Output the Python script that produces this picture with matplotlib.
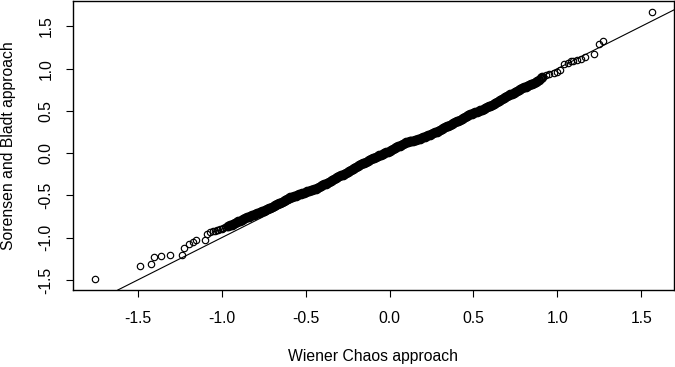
import matplotlib
matplotlib.use("Agg")
import matplotlib.pyplot as plt
import numpy as np

plt.rcParams['font.family'] = ['Liberation Sans', 'DejaVu Sans']

# ---- data (sorted quantiles) ----
low_x = [-1.753, -1.486, -1.421, -1.403, -1.359, -1.308, -1.236, -1.226, -1.195,
         -1.171, -1.151, -1.097, -1.085, -1.070]
low_y = [-1.492, -1.338, -1.307, -1.232, -1.220, -1.205, -1.201, -1.122, -1.071,
         -1.055, -1.028, -1.024, -0.953, -0.937]

mid_x = [-1.05, -1.04, -1.03, -1.02, -1.01, -1.00, -0.99, -0.98, -0.97, -0.96,
         -0.95, -0.94, -0.93, -0.92, -0.91, -0.90, -0.89, -0.88, -0.87, -0.86,
         -0.85, -0.84, -0.83, -0.82, -0.81, -0.80, -0.79, -0.78, -0.77, -0.76,
         -0.75, -0.74, -0.73, -0.72, -0.71, -0.70, -0.69, -0.68, -0.67, -0.66,
         -0.65, -0.64, -0.63, -0.62, -0.61, -0.60, -0.59, -0.58, -0.57, -0.56,
         -0.55, -0.54, -0.53, -0.52, -0.51, -0.50, -0.49, -0.48, -0.47, -0.46,
         -0.45, -0.44, -0.43, -0.42, -0.41, -0.40, -0.39, -0.38, -0.37, -0.36,
         -0.35, -0.34, -0.33, -0.32, -0.31, -0.30, -0.29, -0.28, -0.27, -0.26,
         -0.25, -0.24, -0.23, -0.22, -0.21, -0.20, -0.19, -0.18, -0.17, -0.16,
         -0.15, -0.14, -0.13, -0.12, -0.11, -0.10, -0.09, -0.08, -0.07, -0.06,
         -0.05, -0.04, -0.03, -0.02, -0.01, 0.00, 0.01, 0.02, 0.03, 0.04,
         0.05, 0.06, 0.07, 0.08, 0.09, 0.10, 0.11, 0.12, 0.13, 0.14,
         0.15, 0.16, 0.17, 0.18, 0.19, 0.20, 0.21, 0.22, 0.23, 0.24,
         0.25, 0.26, 0.27, 0.28, 0.29, 0.30, 0.31, 0.32, 0.33, 0.34,
         0.35, 0.36, 0.37, 0.38, 0.39, 0.40, 0.41, 0.42, 0.43, 0.44,
         0.45, 0.46, 0.47, 0.48, 0.49, 0.50, 0.51, 0.52, 0.53, 0.54,
         0.55, 0.56, 0.57, 0.58, 0.59, 0.60, 0.61, 0.62, 0.63, 0.64,
         0.65, 0.66, 0.67, 0.68, 0.69, 0.70, 0.71, 0.72, 0.73, 0.74,
         0.75, 0.76, 0.77, 0.78, 0.79, 0.80, 0.81, 0.82, 0.83, 0.84,
         0.85, 0.86, 0.87, 0.88, 0.89, 0.90, 0.91]
mid_y = [-0.926, -0.920, -0.914, -0.909, -0.903, -0.896, -0.888, -0.879, -0.871, -0.862,
         -0.854, -0.845, -0.837, -0.828, -0.818, -0.808, -0.798, -0.788, -0.779, -0.769,
         -0.759, -0.750, -0.742, -0.735, -0.727, -0.720, -0.712, -0.705, -0.697, -0.689,
         -0.680, -0.671, -0.662, -0.653, -0.644, -0.635, -0.626, -0.617, -0.606, -0.595,
         -0.584, -0.573, -0.562, -0.551, -0.540, -0.531, -0.524, -0.516, -0.509, -0.501,
         -0.494, -0.486, -0.479, -0.472, -0.466, -0.459, -0.453, -0.447, -0.440, -0.434,
         -0.428, -0.419, -0.409, -0.399, -0.389, -0.379, -0.369, -0.359, -0.349, -0.339,
         -0.328, -0.318, -0.307, -0.296, -0.286, -0.275, -0.264, -0.253, -0.242, -0.231,
         -0.220, -0.208, -0.197, -0.186, -0.175, -0.165, -0.154, -0.143, -0.133, -0.122,
         -0.111, -0.101, -0.092, -0.082, -0.072, -0.062, -0.053, -0.043, -0.033, -0.024,
         -0.016, -0.007, 0.001, 0.010, 0.018, 0.027, 0.035, 0.046, 0.057, 0.068,
         0.079, 0.090, 0.101, 0.112, 0.122, 0.128, 0.133, 0.139, 0.144, 0.149,
         0.155, 0.160, 0.166, 0.173, 0.181, 0.188, 0.196, 0.203, 0.211, 0.218,
         0.226, 0.236, 0.246, 0.256, 0.266, 0.276, 0.286, 0.296, 0.306, 0.316,
         0.326, 0.336, 0.345, 0.355, 0.365, 0.375, 0.385, 0.396, 0.406, 0.417,
         0.427, 0.438, 0.449, 0.458, 0.466, 0.474, 0.482, 0.490, 0.498, 0.505,
         0.513, 0.523, 0.533, 0.543, 0.552, 0.562, 0.572, 0.582, 0.592, 0.603,
         0.615, 0.626, 0.638, 0.649, 0.660, 0.672, 0.684, 0.694, 0.705, 0.716,
         0.727, 0.738, 0.749, 0.760, 0.769, 0.778, 0.787, 0.796, 0.805, 0.814,
         0.823, 0.832, 0.842, 0.856, 0.870, 0.884, 0.898]

up_x = [0.935, 0.952, 0.978, 0.996, 1.018, 1.042, 1.062, 1.081, 1.095, 1.117,
        1.139, 1.167, 1.216, 1.246, 1.274, 1.562]
up_y = [0.925, 0.933, 0.948, 0.960, 0.980, 1.051, 1.071, 1.085, 1.090, 1.098,
        1.114, 1.137, 1.173, 1.295, 1.323, 1.673]

x_ticks = [-1.5, -1.0, -0.5, 0.0, 0.5, 1.0, 1.5]
x_tick_labels = ["-1.5", "-1.0", "-0.5", "0.0", "0.5", "1.0", "1.5"]
y_ticks = [-1.5, -1.0, -0.5, 0.0, 0.5, 1.0, 1.5]
y_tick_labels = ["-1.5", "-1.0", "-0.5", "0.0", "0.5", "1.0", "1.5"]

x_label = "Wiener Chaos approach"
y_label = "Sorensen and Bladt approach"

wiener = np.array(low_x + mid_x + up_x)
sorensen = np.array(low_y + mid_y + up_y)

# ---- figure ----
W, H = 675, 367
fig = plt.figure(figsize=(W / 100, H / 100), dpi=100)
ax = fig.add_axes([73 / W, 77 / H, 601 / W, 289 / H])

mx = np.array(mid_x)
my = np.array(mid_y)
edge = mx < -0.96   # start of the band, where single rings are still visible

# sparse tails: individual open circles
ax.plot(low_x + up_x, low_y + up_y, linestyle='none', marker='o', mfc='none',
        mec='black', ms=4.6, mew=0.85)
ax.plot(mx[edge], my[edge], linestyle='none', marker='o', mfc='none',
        mec='black', ms=4.6, mew=0.85)
# dense centre: many overlapping circles render as a solid band
ax.plot(mx[~edge], my[~edge], linestyle='none', marker='o', mfc='none',
        mec='black', ms=5.2, mew=1.8)
ax.axline((0, 0), slope=1, color='black', lw=0.8)

def r_range(v):
    lo, hi = float(np.min(v)), float(np.max(v))
    d = (hi - lo) * 0.04
    return lo - d, hi + d

ax.set_xlim(*r_range(wiener))
ax.set_ylim(*r_range(sorensen))

ax.set_xticks(x_ticks)
ax.set_xticklabels(x_tick_labels)
ax.set_yticks(y_ticks)
ax.set_yticklabels(y_tick_labels)

fs = 11.3
ax.tick_params(axis='both', direction='out', length=5.2, width=0.8,
               labelsize=fs, colors='black')
ax.tick_params(axis='x', pad=10)
ax.tick_params(axis='y', pad=9, labelrotation=90)
for t in ax.get_yticklabels():
    t.set_va('center')
    t.set_ha('right')

for s in ax.spines.values():
    s.set_linewidth(1.0)
    s.set_color('black')

ax.set_xlabel(x_label, fontsize=fs)
ax.xaxis.set_label_coords(0.5, (290 - 357) / 289)
ax.xaxis.label.set_va('center')
ax.set_ylabel(y_label, fontsize=fs)
ax.yaxis.set_label_coords((9 - 73) / 601, 0.5)
ax.yaxis.label.set_va('center')

fig.savefig('out.png', dpi=100)
